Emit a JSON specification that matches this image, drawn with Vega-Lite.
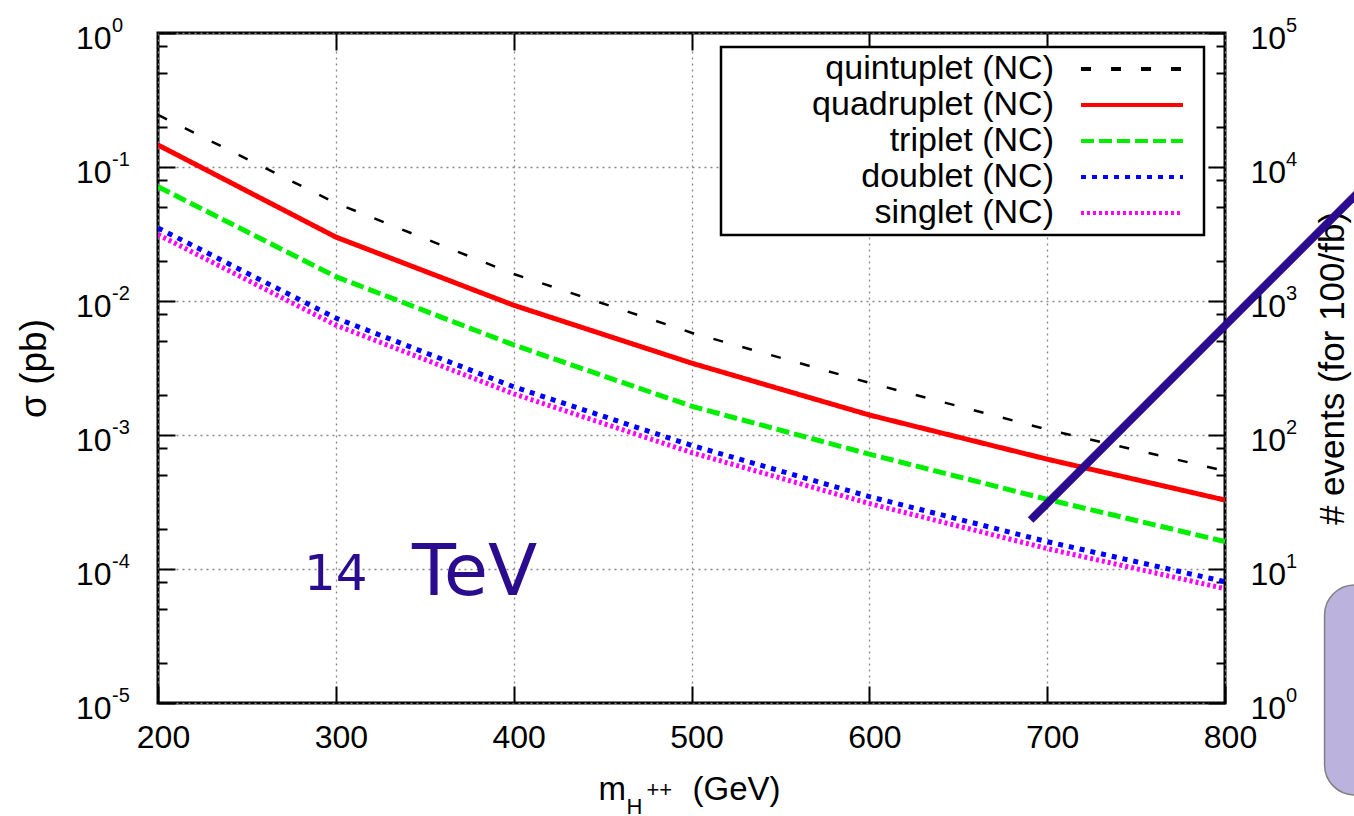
{
  "$schema": "https://vega.github.io/schema/vega-lite/v6.json",
  "width": 1067,
  "height": 670,
  "autosize": {"type": "none"},
  "padding": {"left": 158, "top": 33, "right": 129, "bottom": 113},
  "background": "white",
  "config": {
    "view": {"stroke": "black", "strokeWidth": 3},
    "font": "Liberation Sans",
    "axis": {
      "labelFont": "Liberation Sans",
      "titleFont": "Liberation Sans",
      "labelColor": "black",
      "titleColor": "black",
      "tickColor": "black",
      "domain": false,
      "labelFontSize": 32,
      "labelFlush": false,
      "labelOverlap": false,
      "titleFontSize": 35,
      "titleFontWeight": "normal",
      "tickWidth": 2,
      "gridColor": "#888888",
      "gridDash": [2, 4],
      "gridWidth": 1.3
    },
    "legend": {"strokeWidth": 2.5}
  },
  "datasets": {
    "curves": [
      {"m": 200, "sigma": 0.245, "series": "quintuplet (NC)"},
      {"m": 300, "sigma": 0.0538, "series": "quintuplet (NC)"},
      {"m": 400, "sigma": 0.0159, "series": "quintuplet (NC)"},
      {"m": 500, "sigma": 0.0058, "series": "quintuplet (NC)"},
      {"m": 600, "sigma": 0.00245, "series": "quintuplet (NC)"},
      {"m": 700, "sigma": 0.0011, "series": "quintuplet (NC)"},
      {"m": 800, "sigma": 0.00054, "series": "quintuplet (NC)"},
      {"m": 200, "sigma": 0.146, "series": "quadruplet (NC)"},
      {"m": 300, "sigma": 0.030, "series": "quadruplet (NC)"},
      {"m": 400, "sigma": 0.0093, "series": "quadruplet (NC)"},
      {"m": 500, "sigma": 0.00344, "series": "quadruplet (NC)"},
      {"m": 600, "sigma": 0.00141, "series": "quadruplet (NC)"},
      {"m": 700, "sigma": 0.00066, "series": "quadruplet (NC)"},
      {"m": 800, "sigma": 0.000327, "series": "quadruplet (NC)"},
      {"m": 200, "sigma": 0.0713, "series": "triplet (NC)"},
      {"m": 300, "sigma": 0.0152, "series": "triplet (NC)"},
      {"m": 400, "sigma": 0.0047, "series": "triplet (NC)"},
      {"m": 500, "sigma": 0.00164, "series": "triplet (NC)"},
      {"m": 600, "sigma": 0.00072, "series": "triplet (NC)"},
      {"m": 700, "sigma": 0.000331, "series": "triplet (NC)"},
      {"m": 800, "sigma": 0.00016, "series": "triplet (NC)"},
      {"m": 200, "sigma": 0.0351, "series": "doublet (NC)"},
      {"m": 300, "sigma": 0.00746, "series": "doublet (NC)"},
      {"m": 400, "sigma": 0.00229, "series": "doublet (NC)"},
      {"m": 500, "sigma": 0.000837, "series": "doublet (NC)"},
      {"m": 600, "sigma": 0.000347, "series": "doublet (NC)"},
      {"m": 700, "sigma": 0.00016, "series": "doublet (NC)"},
      {"m": 800, "sigma": 0.0000804, "series": "doublet (NC)"},
      {"m": 200, "sigma": 0.0313, "series": "singlet (NC)"},
      {"m": 300, "sigma": 0.0066, "series": "singlet (NC)"},
      {"m": 400, "sigma": 0.00203, "series": "singlet (NC)"},
      {"m": 500, "sigma": 0.00074, "series": "singlet (NC)"},
      {"m": 600, "sigma": 0.000308, "series": "singlet (NC)"},
      {"m": 700, "sigma": 0.000142, "series": "singlet (NC)"},
      {"m": 800, "sigma": 0.0000713, "series": "singlet (NC)"}
    ],
    "stroke": [
      {"m": 690.7, "sigma": 0.000232},
      {"m": 900, "sigma": 0.139}
    ],
    "decades": [
      {"v": 0.00001, "e": "-5", "er": "0"},
      {"v": 0.0001, "e": "-4", "er": "1"},
      {"v": 0.001, "e": "-3", "er": "2"},
      {"v": 0.01, "e": "-2", "er": "3"},
      {"v": 0.1, "e": "-1", "er": "4"},
      {"v": 1, "e": "0", "er": "5"}
    ]
  },
  "layer": [
    {
      "data": {"name": "curves"},
      "mark": {"type": "line", "clip": true, "strokeCap": "butt"},
      "encoding": {
        "x": {
          "field": "m", "type": "quantitative",
          "scale": {"domain": [200, 800], "nice": false, "zero": false},
          "axis": {"orient": "bottom", "values": [200, 300, 400, 500, 600, 700, 800], "tickSize": -17, "labelPadding": 36, "labelOffset": 5, "grid": true, "title": null}
        },
        "y": {
          "field": "sigma", "type": "quantitative",
          "scale": {"type": "log", "domain": [0.00001, 1], "nice": false},
          "axis": {
            "orient": "left",
            "values": [0.00001, 0.00002, 0.00005, 0.00008, 0.0001, 0.0002, 0.0005, 0.0008, 0.001, 0.002, 0.005, 0.008, 0.01, 0.02, 0.05, 0.08, 0.1, 0.2, 0.5, 0.8, 1],
            "labelExpr": "abs(log(datum.value)/LN10 - round(log(datum.value)/LN10)) < 0.01 ? '10' : ''",
            "tickSize": {"condition": {"test": "abs(log(datum.value)/LN10 - round(log(datum.value)/LN10)) < 0.01", "value": -17}, "value": -9},
            "gridOpacity": {"condition": {"test": "abs(log(datum.value)/LN10 - round(log(datum.value)/LN10)) < 0.01", "value": 1}, "value": 0},
            "grid": true,
            "labelPadding": 64,
            "labelOffset": 5,
            "title": "σ (pb)",
            "titleFontSize": 37,
            "titleAngle": 270,
            "titlePadding": 22
          }
        },
        "color": {
          "field": "series", "type": "nominal",
          "scale": {"domain": ["quintuplet (NC)", "quadruplet (NC)", "triplet (NC)", "doublet (NC)", "singlet (NC)"], "range": ["#000000", "#ff0000", "#00ee00", "#0000ff", "#ff00ff"]},
          "legend": {"orient": "none", "legendX": 563, "legendY": 14, "title": " ", "titleOrient": "right", "titleFontSize": 10, "titlePadding": 8, "symbolType": "M-5,0H5", "symbolSize": 416, "symbolStrokeWidth": 4, "labelFontSize": 34, "labelFont": "Liberation Sans", "labelColor": "black", "labelAlign": "right", "labelOffset": -95, "symbolOffset": 389, "padding": 5, "rowPadding": 2, "strokeColor": "black", "fillColor": "white", "labelLimit": 0}
        },
        "strokeDash": {
          "field": "series", "type": "nominal",
          "scale": {"domain": ["quintuplet (NC)", "quadruplet (NC)", "triplet (NC)", "doublet (NC)", "singlet (NC)"], "range": [[10, 20], [1, 0], [13, 5], [5, 6], [3, 3]]},
          "legend": {"orient": "none", "legendX": 563, "legendY": 14, "title": " ", "titleOrient": "right", "titleFontSize": 10, "titlePadding": 8, "symbolType": "M-5,0H5", "symbolSize": 416, "symbolStrokeWidth": 4, "labelFontSize": 34, "labelFont": "Liberation Sans", "labelColor": "black", "labelAlign": "right", "labelOffset": -95, "symbolOffset": 389, "padding": 5, "rowPadding": 2, "strokeColor": "black", "fillColor": "white", "labelLimit": 0}
        },
        "strokeWidth": {"condition": {"test": "datum.series === 'quintuplet (NC)'", "value": 2.5}, "value": 5}
      }
    },
    {
      "data": {"name": "stroke"},
      "mark": {"type": "line", "clip": false, "color": "#2b0c8e", "strokeWidth": 8, "strokeCap": "butt"},
      "encoding": {
        "x": {
          "field": "m", "type": "quantitative",
          "scale": {"domain": [200, 800], "nice": false, "zero": false},
          "axis": {"orient": "top", "values": [300, 400, 500, 600, 700], "labels": false, "tickSize": -17, "grid": false, "title": null, "zindex": 0}
        },
        "y": {
          "field": "sigma", "type": "quantitative",
          "scale": {"type": "log", "domain": [0.00001, 1], "nice": false},
          "axis": {
            "orient": "right",
            "values": [0.00001, 0.00002, 0.00005, 0.00008, 0.0001, 0.0002, 0.0005, 0.0008, 0.001, 0.002, 0.005, 0.008, 0.01, 0.02, 0.05, 0.08, 0.1, 0.2, 0.5, 0.8, 1],
            "labelExpr": "abs(log(datum.value)/LN10 - round(log(datum.value)/LN10)) < 0.01 ? '10' : ''",
            "tickSize": {"condition": {"test": "abs(log(datum.value)/LN10 - round(log(datum.value)/LN10)) < 0.01", "value": -17}, "value": -9},
            "grid": false,
            "zindex": 0,
            "labelPadding": 42,
            "labelOffset": 5,
            "title": "# events (for 100/fb)",
            "titleAngle": 270,
            "titleBaseline": "top",
            "titlePadding": 30
          }
        }
      }
    },
    {
      "data": {"name": "decades"},
      "mark": {"type": "text", "font": "Liberation Sans", "fontSize": 20, "color": "black", "align": "left", "baseline": "middle", "dx": -46, "dy": -7, "clip": false},
      "encoding": {
        "x": {"datum": 200, "type": "quantitative", "scale": {"domain": [200, 800], "nice": false, "zero": false}, "axis": null},
        "y": {"field": "v", "type": "quantitative", "scale": {"type": "log", "domain": [0.00001, 1], "nice": false}, "axis": null},
        "text": {"field": "e", "type": "nominal"}
      }
    },
    {
      "data": {"name": "decades"},
      "mark": {"type": "text", "font": "Liberation Sans", "fontSize": 20, "color": "black", "align": "left", "baseline": "middle", "dx": 61, "dy": -7, "clip": false},
      "encoding": {
        "x": {"datum": 800, "type": "quantitative", "scale": {"domain": [200, 800], "nice": false, "zero": false}, "axis": null},
        "y": {"field": "v", "type": "quantitative", "scale": {"type": "log", "domain": [0.00001, 1], "nice": false}, "axis": null},
        "text": {"field": "er", "type": "nominal"}
      }
    },
    {
      "data": {"values": [{}]},
      "mark": {"type": "rect", "clip": false, "fill": "#bcb2de", "stroke": "#808080", "strokeWidth": 1.5, "cornerRadius": 30},
      "encoding": {
        "x": {"datum": 856, "type": "quantitative", "scale": {"domain": [200, 800], "nice": false, "zero": false}, "axis": null},
        "x2": {"datum": 960},
        "y": {"datum": 0.000076, "type": "quantitative", "scale": {"type": "log", "domain": [0.00001, 1], "nice": false}, "axis": null},
        "y2": {"datum": 0.00000206}
      }
    },
    {
      "data": {"values": [{}]},
      "mark": {"type": "text", "text": "14", "font": "DejaVu Sans", "fontSize": 50, "color": "#2b0c8e", "align": "center", "baseline": "middle", "clip": false},
      "encoding": {
        "x": {"datum": 300, "type": "quantitative", "scale": {"domain": [200, 800], "nice": false, "zero": false}, "axis": null},
        "y": {"datum": 0.00009, "type": "quantitative", "scale": {"type": "log", "domain": [0.00001, 1], "nice": false}, "axis": null}
      }
    },
    {
      "data": {"values": [{}]},
      "mark": {"type": "text", "text": "TeV", "font": "DejaVu Sans", "fontSize": 72, "color": "#2b0c8e", "align": "center", "baseline": "middle", "clip": false},
      "encoding": {
        "x": {"datum": 378, "type": "quantitative", "scale": {"domain": [200, 800], "nice": false, "zero": false}, "axis": null},
        "y": {"datum": 0.000093, "type": "quantitative", "scale": {"type": "log", "domain": [0.00001, 1], "nice": false}, "axis": null}
      }
    },
    {
      "data": {"values": [{}]},
      "mark": {"type": "text", "text": "m", "font": "Liberation Sans", "fontSize": 33, "color": "black", "align": "left", "baseline": "alphabetic", "dx": -93, "dy": 97, "clip": false},
      "encoding": {
        "x": {"datum": 500, "type": "quantitative", "scale": {"domain": [200, 800], "nice": false, "zero": false}, "axis": null},
        "y": {"datum": 0.00001, "type": "quantitative", "scale": {"type": "log", "domain": [0.00001, 1], "nice": false}, "axis": null}
      }
    },
    {
      "data": {"values": [{}]},
      "mark": {"type": "text", "text": "H", "font": "Liberation Sans", "fontSize": 22, "color": "black", "align": "left", "baseline": "alphabetic", "dx": -65, "dy": 111, "clip": false},
      "encoding": {
        "x": {"datum": 500, "type": "quantitative", "scale": {"domain": [200, 800], "nice": false, "zero": false}, "axis": null},
        "y": {"datum": 0.00001, "type": "quantitative", "scale": {"type": "log", "domain": [0.00001, 1], "nice": false}, "axis": null}
      }
    },
    {
      "data": {"values": [{}]},
      "mark": {"type": "text", "text": "++", "font": "Liberation Sans", "fontSize": 22, "color": "black", "align": "left", "baseline": "alphabetic", "dx": -45, "dy": 94, "clip": false},
      "encoding": {
        "x": {"datum": 500, "type": "quantitative", "scale": {"domain": [200, 800], "nice": false, "zero": false}, "axis": null},
        "y": {"datum": 0.00001, "type": "quantitative", "scale": {"type": "log", "domain": [0.00001, 1], "nice": false}, "axis": null}
      }
    },
    {
      "data": {"values": [{}]},
      "mark": {"type": "text", "text": "(GeV)", "font": "Liberation Sans", "fontSize": 33, "color": "black", "align": "left", "baseline": "alphabetic", "dx": 1, "dy": 97, "clip": false},
      "encoding": {
        "x": {"datum": 500, "type": "quantitative", "scale": {"domain": [200, 800], "nice": false, "zero": false}, "axis": null},
        "y": {"datum": 0.00001, "type": "quantitative", "scale": {"type": "log", "domain": [0.00001, 1], "nice": false}, "axis": null}
      }
    }
  ],
  "resolve": {"axis": {"x": "independent", "y": "independent"}}
}
